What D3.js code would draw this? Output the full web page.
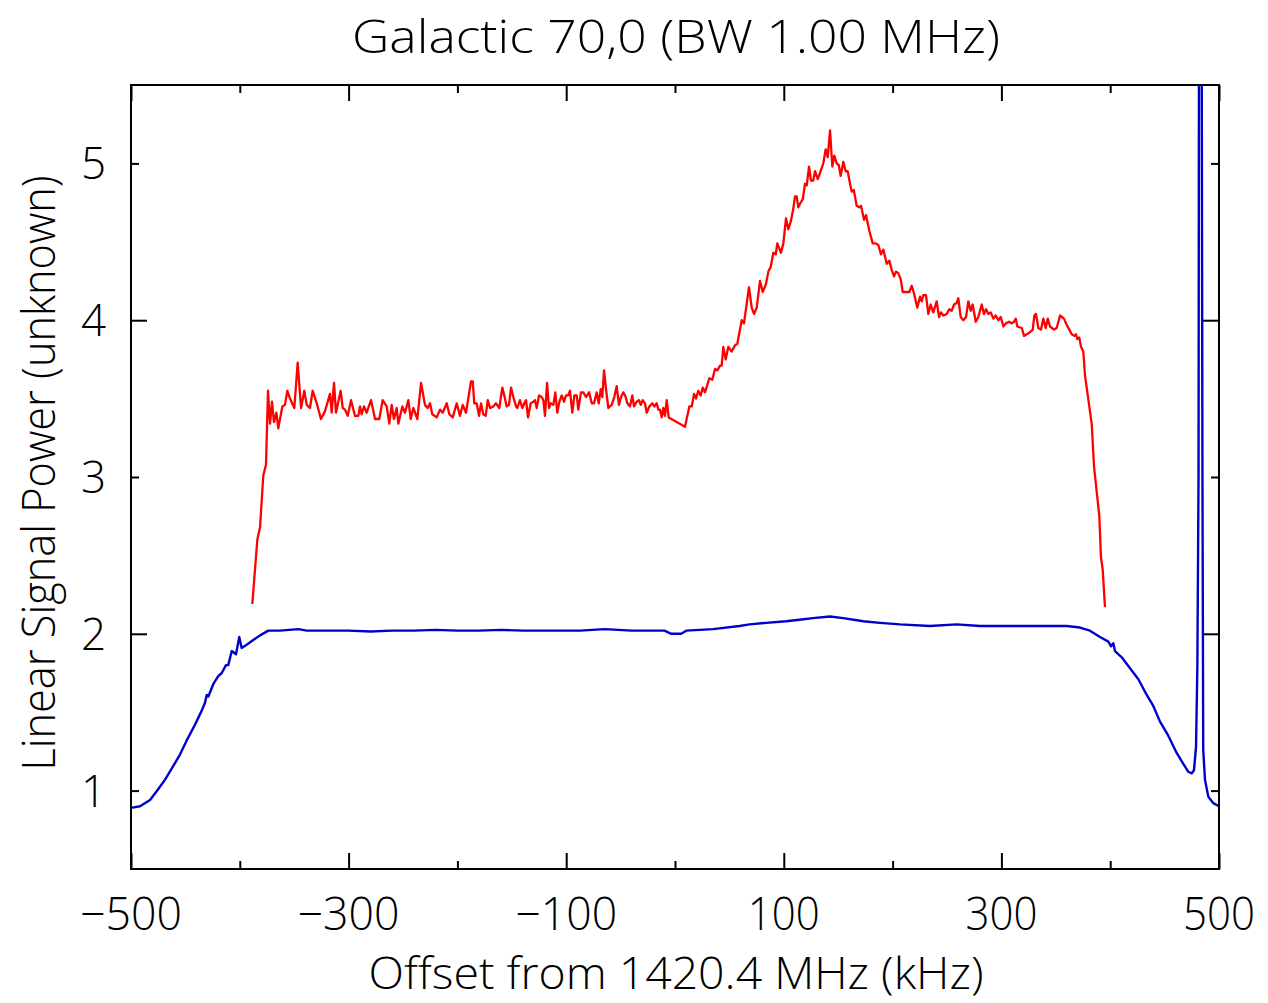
<!DOCTYPE html>
<html>
<head>
<meta charset="utf-8">
<title>Galactic 70,0</title>
<style>
  body { margin: 0; background: #fff; }
  svg text { font-family: "Open Sans", "DejaVu Sans", sans-serif; font-weight: 300; fill: #000; }
</style>
<script src="https://cdnjs.cloudflare.com/ajax/libs/d3/7.8.5/d3.min.js"></script>
</head>
<body>
<svg id="chart" width="1268" height="1003"></svg>
<script>
// --- data ---
var redX = [-388.5,-383.9,-381.4,-378.4,-375.9,-374.1,-372.2,-370.4,-368.6,-366.4,-364.6,-360.9,-358.5,-356.3,-353.9,-349.9,-346.8,-343.7,-340.7,-338.5,
  -335.5,-333.0,-329.3,-325.4,-321.7,-317.1,-315.5,-313.4,-311.6,-307.3,-305.4,-303.3,-300.8,-297.8,-294.1,-291.1,-289.5,-288.0,-285.8,-283.4,
  -279.4,-275.7,-271.8,-268.7,-265.0,-262.6,-260.4,-258.3,-255.8,-254.3,-250.6,-248.2,-245.1,-242.9,-240.5,-236.8,-233.4,-229.8,-227.3,-225.2,
  -223.1,-219.0,-216.0,-213.5,-209.8,-207.4,-204.3,-200.6,-197.6,-195.1,-192.1,-190.5,-187.5,-185.9,-184.5,-182.3,-180.1,-178.3,-176.2,-174.0,
  -172.1,-170.0,-167.0,-164.5,-161.5,-158.7,-156.9,-154.7,-152.6,-150.7,-148.6,-146.1,-144.9,-142.5,-140.3,-138.5,-136.9,-135.1,-132.6,-130.2,
  -128.7,-127.1,-125.0,-122.5,-121.0,-119.5,-117.6,-115.8,-114.2,-111.8,-110.0,-108.2,-106.3,-104.1,-102.0,-100.2,-98.1,-96.5,-94.4,-92.5,
  -90.3,-88.9,-86.4,-84.3,-81.8,-79.0,-76.5,-74.4,-72.0,-70.1,-68.3,-66.8,-65.2,-63.4,-61.3,-58.2,-55.8,-53.6,-51.5,-49.6,
  -47.5,-45.3,-43.8,-41.4,-39.2,-37.7,-35.2,-33.1,-31.5,-29.7,-27.6,-26.0,-23.6,-20.9,-19.0,-16.8,-15.3,-13.8,-12.2,-10.7,
  -9.2,-7.6,-5.8,9.2,13.2,15.4,17.5,19.3,21.4,23.6,25.5,27.6,31.5,34.3,36.8,38.9,41.4,42.9,44.4,46.6,
  49.0,52.1,55.2,57.3,61.3,63.4,68.0,70.5,72.6,75.1,78.1,80.6,83.6,85.8,88.0,90.4,92.6,94.0,97.4,99.6,
  102.0,104.2,106.4,108.7,110.3,111.9,113.3,115.5,117.4,119.5,121.1,123.2,125.0,127.1,128.7,131.2,133.3,136.3,138.5,140.4,
  142.5,144.6,146.4,148.6,150.5,152.3,154.7,156.9,158.7,160.9,162.4,164.3,167.0,169.4,171.0,173.7,175.6,178.6,181.7,184.5,
  186.9,189.3,191.5,194.6,197.0,199.2,201.3,203.1,205.2,207.5,209.3,213.0,215.4,217.6,219.7,222.7,225.2,226.8,228.2,230.7,
  232.8,235.0,237.4,240.5,242.7,244.5,246.6,249.7,252.1,254.3,256.5,258.9,260.4,262.6,265.0,267.5,269.6,271.8,273.6,276.4,
  278.8,281.9,284.0,285.9,288.0,290.2,292.6,294.8,297.2,299.4,301.8,304.2,307.0,309.5,311.6,313.2,314.6,318.7,320.8,323.3,
  325.7,328.8,330.3,331.8,333.9,336.4,338.5,340.7,342.6,344.7,348.4,350.8,353.9,357.5,360.0,362.4,364.6,367.0,368.6,369.8,
  371.6,373.2,375.3,376.8,383.0,385.1,390.0,391.5,393.1,395.2];
var redY = [2.19,2.60,2.68,3.01,3.08,3.55,3.34,3.48,3.35,3.41,3.31,3.45,3.46,3.55,3.50,3.44,3.73,3.44,3.55,3.46,
  3.44,3.55,3.47,3.37,3.42,3.53,3.41,3.60,3.41,3.55,3.44,3.43,3.39,3.49,3.39,3.39,3.45,3.40,3.45,3.41,
  3.49,3.37,3.37,3.49,3.45,3.34,3.46,3.37,3.44,3.34,3.45,3.41,3.49,3.37,3.44,3.37,3.60,3.46,3.44,3.47,
  3.40,3.38,3.43,3.41,3.47,3.40,3.38,3.47,3.39,3.46,3.41,3.48,3.61,3.61,3.47,3.47,3.39,3.47,3.40,3.39,
  3.49,3.44,3.45,3.47,3.44,3.57,3.52,3.45,3.46,3.57,3.51,3.45,3.44,3.49,3.44,3.47,3.49,3.38,3.47,3.48,
  3.49,3.44,3.52,3.51,3.49,3.39,3.60,3.44,3.47,3.46,3.54,3.41,3.48,3.52,3.48,3.52,3.52,3.55,3.41,3.52,
  3.52,3.43,3.54,3.54,3.51,3.54,3.47,3.47,3.54,3.47,3.56,3.51,3.68,3.56,3.44,3.46,3.51,3.58,3.46,3.51,
  3.54,3.51,3.47,3.45,3.52,3.45,3.48,3.49,3.46,3.49,3.47,3.41,3.45,3.47,3.45,3.47,3.43,3.43,3.38,3.44,
  3.39,3.49,3.38,3.32,3.45,3.45,3.53,3.50,3.55,3.52,3.57,3.54,3.63,3.62,3.69,3.68,3.71,3.71,3.83,3.75,
  3.83,3.80,3.84,3.85,4.00,3.98,4.21,4.08,4.04,4.08,4.25,4.18,4.23,4.31,4.34,4.43,4.42,4.49,4.43,4.49,
  4.65,4.58,4.63,4.71,4.79,4.79,4.72,4.75,4.77,4.87,4.86,4.98,4.89,4.89,4.95,4.90,4.94,5.00,5.09,5.04,
  5.21,4.98,5.05,5.00,4.99,4.92,5.01,4.95,4.95,4.87,4.82,4.83,4.73,4.72,4.73,4.64,4.67,4.57,4.49,4.49,
  4.48,4.42,4.45,4.36,4.38,4.32,4.28,4.31,4.30,4.26,4.18,4.18,4.18,4.22,4.17,4.08,4.15,4.12,4.16,4.16,
  4.04,4.10,4.05,4.12,4.02,4.05,4.03,4.04,4.07,4.06,4.10,4.11,4.14,4.02,4.00,4.02,4.12,4.06,4.10,3.99,
  4.02,4.10,4.04,4.07,4.04,4.05,4.01,4.03,4.00,4.02,3.96,3.98,3.99,3.98,3.99,4.01,3.96,3.95,3.90,3.91,
  3.92,3.94,4.03,4.04,3.95,3.94,4.01,3.95,4.01,3.96,3.94,3.95,4.03,4.01,3.97,3.94,3.91,3.90,3.91,3.88,
  3.89,3.83,3.80,3.65,3.34,3.07,2.75,2.49,2.41,2.17];

var blueX = [-500,-491.7,-482.5,-474.9,-468.7,-462.6,-455.0,-448.8,-441.2,-435.0,-432.0,-430.4,-428.9,-424.3,-419.8,-416.6,-412.7,-410.6,-407.4,-403.5,
  -400.5,-398.3,-393.7,-387.6,-381.4,-373.8,-363.0,-346.2,-338.5,-320,-300,-280,-260,-240,-220,-200,-180,-160,-140,-120,
  -100,-87.3,-64.5,-40,-20,-9.6,-3.5,5.7,10.3,34.8,59.3,68.5,83.8,102.2,114.5,126.7,142.5,154.7,173.0,188.4,
  206.8,234.3,258.9,280.3,300,320,340,360,372.2,381.4,390.6,398.3,400.8,402.9,404.4,410.6,418.2,425.9,433.6,439.6,
  445.8,453.4,461.1,467.2,471.8,474.9,477.0,478.9,480.1,481.2,482.5,484.8,485.5,487.1,490.2,494.8,500];
var blueY = [0.89,0.90,0.94,1.01,1.07,1.14,1.23,1.32,1.42,1.51,1.56,1.61,1.60,1.68,1.73,1.75,1.80,1.80,1.89,1.87,
  1.98,1.91,1.93,1.96,1.99,2.02,2.02,2.03,2.02,2.02,2.02,2.015,2.02,2.02,2.025,2.02,2.02,2.025,2.02,2.02,
  2.02,2.02,2.03,2.02,2.02,2.02,2.00,2.00,2.02,2.03,2.05,2.06,2.07,2.08,2.09,2.10,2.11,2.10,2.08,2.07,
  2.06,2.05,2.06,2.05,2.05,2.05,2.05,2.05,2.04,2.02,1.98,1.95,1.92,1.94,1.89,1.85,1.78,1.71,1.61,1.54,
  1.44,1.35,1.24,1.17,1.12,1.11,1.13,1.28,1.79,3.0,12,3.0,1.26,1.07,0.96,0.92,0.90];

var xMajor = [-500, -300, -100, 100, 300, 500];
var xMinor = [-400, -200, 0, 200, 400];
var yMajor = [2, 4];
var yMinor = [1, 3, 5];
var yLabels = [1, 2, 3, 4, 5];

var padL = 131, padR = 1219, padT = 85, padB = 869;

var svg = d3.select('#chart');
var x = d3.scaleLinear().domain([-500, 500]).range([padL, padR]);
var y = d3.scaleLinear().domain([0.5, 5.5]).range([padB, padT]);

svg.append('clipPath').attr('id', 'plotclip')
  .append('rect').attr('x', padL).attr('y', padT).attr('width', padR - padL).attr('height', padB - padT);

// ticks, all pointing inward
function tickAxis(axis, tx, ty) {
  var g = svg.append('g').attr('transform', 'translate(' + tx + ',' + ty + ')').call(axis);
  g.select('.domain').remove();
  g.selectAll('line').attr('stroke', '#000').attr('stroke-width', 2);
  g.selectAll('text').remove();
}
tickAxis(d3.axisBottom(x).tickValues(xMajor).tickSize(-16), 0, padB);
tickAxis(d3.axisBottom(x).tickValues(xMinor).tickSize(-8), 0, padB);
tickAxis(d3.axisTop(x).tickValues(xMajor).tickSize(-16), 0, padT);
tickAxis(d3.axisTop(x).tickValues(xMinor).tickSize(-8), 0, padT);
tickAxis(d3.axisLeft(y).tickValues(yMajor).tickSize(-16), padL, 0);
tickAxis(d3.axisLeft(y).tickValues(yMinor).tickSize(-8), padL, 0);
tickAxis(d3.axisRight(y).tickValues(yMajor).tickSize(-16), padR, 0);
tickAxis(d3.axisRight(y).tickValues(yMinor).tickSize(-8), padR, 0);

var line = d3.line().x(function(d) { return x(d[0]); }).y(function(d) { return y(d[1]); });

svg.append('path')
  .datum(d3.zip(blueX, blueY))
  .attr('clip-path', 'url(#plotclip)')
  .attr('d', line)
  .attr('fill', 'none').attr('stroke', '#0000cc').attr('stroke-width', 2.4).attr('stroke-linejoin', 'round');

svg.append('path')
  .datum(d3.zip(redX, redY))
  .attr('clip-path', 'url(#plotclip)')
  .attr('d', line)
  .attr('fill', 'none').attr('stroke', '#ff0000').attr('stroke-width', 2.3).attr('stroke-linejoin', 'round');

svg.append('rect')
  .attr('x', padL).attr('y', padT).attr('width', padR - padL).attr('height', padB - padT)
  .attr('fill', 'none').attr('stroke', '#000').attr('stroke-width', 2);

// labels
function fmt(v) { return v < 0 ? '\u2212' + Math.abs(v) : String(v); }

svg.selectAll('.xl').data(xMajor).enter().append('text')
  .attr('x', function(d) { return x(d); }).attr('y', 930)
  .attr('text-anchor', 'middle').attr('font-size', 46)
  .attr('textLength', function(d) { return d < 0 ? 102 : 72; })
  .attr('lengthAdjust', 'spacingAndGlyphs')
  .text(fmt);

svg.selectAll('.yl').data(yLabels).enter().append('text')
  .attr('x', 106).attr('y', function(d) { return y(d) + 16; })
  .attr('text-anchor', 'end').attr('font-size', 44)
  .text(function(d) { return d; });

svg.append('text').attr('x', 676).attr('y', 53)
  .attr('text-anchor', 'middle').attr('font-size', 46)
  .attr('textLength', 648).attr('lengthAdjust', 'spacingAndGlyphs')
  .text('Galactic  70,0  (BW  1.00  MHz)');

svg.append('text').attr('x', 676).attr('y', 989)
  .attr('text-anchor', 'middle').attr('font-size', 44)
  .attr('textLength', 615).attr('lengthAdjust', 'spacingAndGlyphs')
  .text('Offset  from  1420.4  MHz  (kHz)');

svg.append('text').attr('transform', 'translate(55,473) rotate(-90)')
  .attr('text-anchor', 'middle').attr('font-size', 46)
  .attr('textLength', 595).attr('lengthAdjust', 'spacingAndGlyphs')
  .text('Linear  Signal  Power  (unknown)');
</script>
</body>
</html>
